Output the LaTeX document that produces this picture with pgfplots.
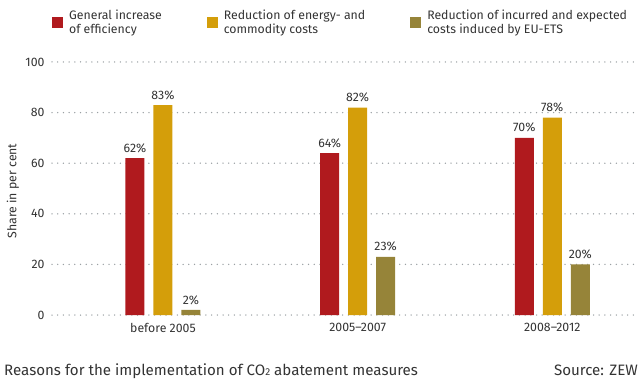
\documentclass[border=0pt]{standalone}
\usepackage{fontspec}
\setmainfont{Fira Sans}
\usepackage{pgfplots}
\pgfplotsset{compat=1.18}
\definecolor{zewred}{HTML}{B01A1E}
\definecolor{zewyellow}{HTML}{D49E0A}
\definecolor{zewolive}{HTML}{968439}
\definecolor{zewtext}{HTML}{333333}
\definecolor{zewgrid}{HTML}{9AA0A3}
\newcommand{\chartfont}{\fontsize{12.3bp}{14.5bp}\selectfont}
\newcommand{\captionfont}{\fontsize{15.1bp}{17bp}\selectfont}
\begin{document}
\begin{tikzpicture}[x=1bp,y=1bp]
\path[use as bounding box] (0,0) rectangle (640,383);
\begin{axis}[
  at={(52bp,68bp)}, anchor=south west,
  scale only axis, width=584bp, height=253bp,
  xmin=-0.57, xmax=2.43, ymin=0, ymax=100,
  axis line style={draw=none},
  major tick length=0pt,
  ytick={0,20,...,100},
  xtick={0,1,2},
  xticklabels={before 2005, 2005--2007, 2008--2012},
  ymajorgrids,
  grid style={draw=zewgrid, line width=1.5bp, dash pattern=on 0bp off 5.7bp, line cap=round},
  ylabel={Share in per cent},
  ylabel style={font=\chartfont, text=zewtext, at={(axis description cs:-0.067,0.49)}, anchor=center},
  ticklabel style={font=\chartfont, text=zewtext},
  /pgf/number format/assume math mode=true,
  yticklabel style={xshift=-4bp},
  xticklabel style={yshift=-5bp},
  ybar, bar width=19bp,
  clip=false,
  nodes near coords={\pgfmathprintnumber{\pgfplotspointmeta}\%},
  every node near coord/.append style={font=\chartfont, text=zewtext, yshift=2bp},
  legend columns=3,
  legend style={at={(axis description cs:0,1.215)}, anchor=north west, draw=none, fill=none,
    font=\chartfont, text=zewtext, inner sep=0pt,
    /tikz/every odd column/.append style={column sep=4bp},
    /tikz/every even column/.append style={column sep=43bp},
    cells={align=left, anchor=west}},
  legend image code/.code={\fill[#1] (0bp,-5.5bp) rectangle (11bp,5.5bp);},
]
\addplot[fill=zewred, draw=none, bar shift=-28bp] coordinates {(0,62) (1,64) (2,70)};
\addplot[fill=zewyellow, draw=none, bar shift=0bp] coordinates {(0,83) (1,82) (2,78)};
\addplot[fill=zewolive, draw=none, bar shift=28bp] coordinates {(0,2) (1,23) (2,20)};
\legend{General increase\\of efficiency, Reduction of energy- and\\commodity costs, Reduction of incurred and expected\\costs induced by EU-ETS}
\end{axis}
\node[anchor=base west, font=\captionfont, text=zewtext, inner sep=0pt] at (4,7.3)
  {Reasons for the implementation of CO{\fontsize{10bp}{10bp}\selectfont 2} abatement measures};
\node[anchor=base east, font=\captionfont, text=zewtext, inner sep=0pt] at (638,7.3) {Source: ZEW};
\end{tikzpicture}
\end{document}
